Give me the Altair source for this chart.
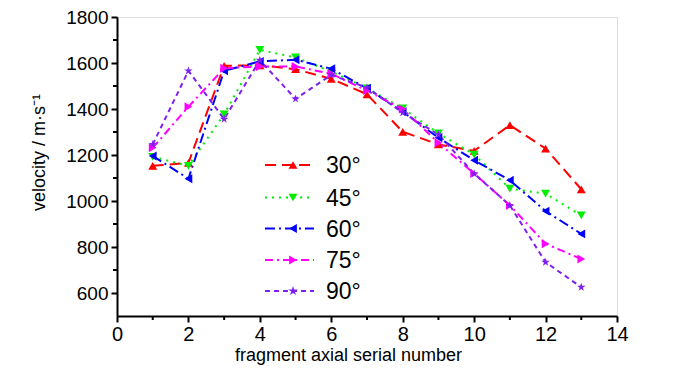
import altair as alt
import pandas as pd

serial = list(range(1, 14))
series_names = ["30°", "45°", "60°", "75°", "90°"]
v30 = [1153, 1166, 1588, 1590, 1573, 1531, 1464, 1301, 1246, 1218, 1330, 1228, 1051]
v45 = [1192, 1153, 1377, 1657, 1624, 1563, 1490, 1403, 1294, 1202, 1054, 1032, 937]
v60 = [1196, 1097, 1566, 1607, 1614, 1575, 1490, 1388, 1275, 1177, 1090, 956, 857]
v75 = [1231, 1410, 1577, 1585, 1585, 1553, 1480, 1400, 1253, 1119, 981, 814, 748]
v90 = [1246, 1566, 1356, 1612, 1444, 1548, 1493, 1384, 1289, 1119, 981, 734, 625]
values = [v30, v45, v60, v75, v90]

y_major = [600, 800, 1000, 1200, 1400, 1600, 1800]
y_minor = [700, 900, 1100, 1300, 1500, 1700]
x_major = [0, 2, 4, 6, 8, 10, 12, 14]
x_minor = [1, 3, 5, 7, 9, 11, 13]

colors = ["#ff0000", "#00ee00", "#0000ff", "#ff00ff", "#8020f0"]
dashes = [[11, 6], [2, 5], [10, 4, 2, 4], [8, 4, 2, 4], [5, 4]]
star = ("M0,-1L0.2245,-0.309L0.951,-0.309L0.363,0.118L0.588,0.809L0,0.382"
        "L-0.588,0.809L-0.363,0.118L-0.951,-0.309L-0.2245,-0.309Z")
shapes = ["triangle-up", "triangle-down", "triangle-left", "triangle-right", star]
sizes = [80, 80, 80, 80, 100]

FONT = "Liberation Sans, Arial, sans-serif"

rows = []
for name, vals in zip(series_names, values):
    for s, v in zip(serial, vals):
        rows.append({"serial": s, "velocity": v, "series": name})
df = pd.DataFrame(rows)

xscale = alt.Scale(domain=[0, 14], nice=False, zero=False)
yscale = alt.Scale(domain=[500, 1800], nice=False, zero=False)

xenc = alt.X("serial:Q", scale=xscale,
             axis=alt.Axis(values=x_major, title="fragment axial serial number", format="d",
                           grid=False, tickSize=6, tickWidth=2, domainWidth=2,
                           domainColor="black", tickColor="black",
                           labelFont=FONT, labelFontSize=20, labelColor="black",
                           labelPadding=2, titleFont=FONT, titleFontSize=18,
                           titleFontWeight="normal", titleColor="black",
                           titlePadding=2, titleX=231, labelFlush=False))
yenc = alt.Y("velocity:Q", scale=yscale,
             axis=alt.Axis(values=y_major, title="velocity / m·s⁻¹", format="d",
                           grid=False, tickSize=6, tickWidth=2, domainWidth=2,
                           domainColor="black", tickColor="black",
                           labelFont=FONT, labelFontSize=19, labelColor="black",
                           labelPadding=3, titleFont=FONT, titleFontSize=18,
                           titleFontWeight="normal", titleColor="black",
                           titlePadding=17, titleY=135, labelFlush=False))

color_enc = alt.Color("series:N", scale=alt.Scale(domain=series_names, range=colors), legend=None)

lines = alt.Chart(df).mark_line(strokeWidth=2).encode(
    x=xenc, y=yenc, color=color_enc,
    strokeDash=alt.StrokeDash("series:N", scale=alt.Scale(domain=series_names, range=dashes), legend=None),
)
points = alt.Chart(df).mark_point(filled=True, opacity=1).encode(
    x=alt.X("serial:Q", scale=xscale), y=alt.Y("velocity:Q", scale=yscale),
    color=color_enc,
    shape=alt.Shape("series:N", scale=alt.Scale(domain=series_names, range=shapes), legend=None),
    size=alt.Size("series:N", scale=alt.Scale(domain=series_names, range=sizes), legend=None),
)

ymin = alt.Chart(pd.DataFrame({"v": y_minor})).mark_rule(color="black", strokeWidth=2).encode(
    y=alt.Y("v:Q", scale=yscale), x=alt.value(-4), x2=alt.value(0))
xmin = alt.Chart(pd.DataFrame({"v": x_minor})).mark_rule(color="black", strokeWidth=2).encode(
    x=alt.X("v:Q", scale=xscale), y=alt.value(299), y2=alt.value(303))

legend_layers = []
row_y = [148, 180.5, 211.5, 243, 274]
for i, name in enumerate(series_names):
    d = pd.DataFrame({"series": [name]})
    base = alt.Chart(d)
    legend_layers.append(base.mark_rule(color=colors[i], strokeWidth=2, strokeDash=dashes[i]).encode(
        x=alt.value(148), x2=alt.value(197), y=alt.value(row_y[i])))
    legend_layers.append(base.mark_point(filled=True, opacity=1, color=colors[i],
                                         shape=shapes[i], size=sizes[i]).encode(
        x=alt.value(176), y=alt.value(row_y[i])))
    legend_layers.append(base.mark_text(align="left", baseline="middle", font=FONT,
                                        fontSize=23, color="black").encode(
        text="series:N", x=alt.value(209), y=alt.value(row_y[i] + 1)))

chart = alt.layer(lines, points, ymin, xmin, *legend_layers).properties(
    width=500, height=299,
    autosize=alt.AutoSizeParams(type="none"),
    padding={"left": 109, "top": 9, "right": 75, "bottom": 50},
).configure_view(stroke=None).configure(background="white")

chart.save("out.html", embed_options={"renderer": "svg", "actions": False})
